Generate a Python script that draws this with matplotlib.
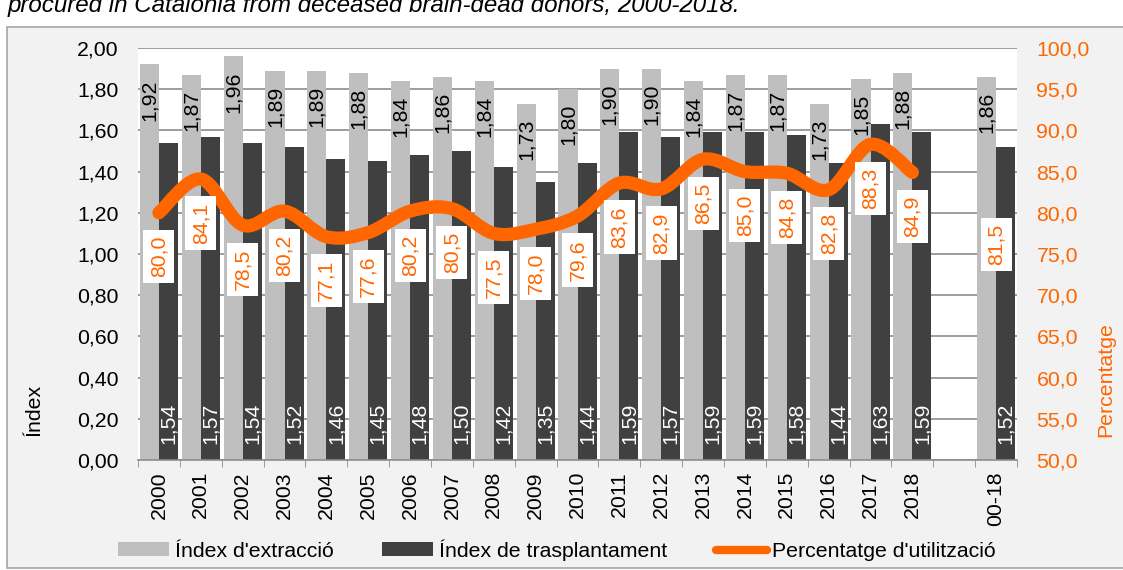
import numpy as np
import matplotlib
matplotlib.use("Agg")
import matplotlib.pyplot as plt
from matplotlib.path import Path
from matplotlib.patches import PathPatch, Patch, Rectangle
from matplotlib.lines import Line2D

plt.rcParams['font.family'] = ['Liberation Sans', 'DejaVu Sans']

# -------------------------------------------------
# DATA
# -------------------------------------------------
categories = ["2000", "2001", "2002", "2003", "2004", "2005", "2006", "2007", "2008",
              "2009", "2010", "2011", "2012", "2013", "2014", "2015", "2016", "2017",
              "2018", "", "00-18"]
extraction = [1.92, 1.87, 1.96, 1.89, 1.89, 1.88, 1.84, 1.86, 1.84, 1.73, 1.80,
              1.90, 1.90, 1.84, 1.87, 1.87, 1.73, 1.85, 1.88, None, 1.86]
transplant = [1.54, 1.57, 1.54, 1.52, 1.46, 1.45, 1.48, 1.50, 1.42, 1.35, 1.44,
              1.59, 1.57, 1.59, 1.59, 1.58, 1.44, 1.63, 1.59, None, 1.52]
utilisation = [80.0, 84.1, 78.5, 80.2, 77.1, 77.6, 80.2, 80.5, 77.5, 78.0, 79.6,
               83.6, 82.9, 86.5, 85.0, 84.8, 82.8, 88.3, 84.9, None, 81.5]

title = "procured in Catalonia from deceased brain-dead donors, 2000-2018."

ORANGE = "#FF6600"
LIGHT = "#BFBFBF"
DARK = "#404040"
W, H = 1123, 570
FS = 15.3

def fmt(v, d):
    return f"{v:.{d}f}".replace(".", ",")

fig = plt.figure(figsize=(W / 100, H / 100), dpi=100)
fig.patch.set_facecolor("white")

# chart box
fig.patches.append(Rectangle((7 / W, 2 / H), 1.2, (568 - 27) / H, transform=fig.transFigure,
                             facecolor="#F2F2F2", edgecolor="#A6A6A6", lw=1.2, zorder=-5))

# title line is cut at the top edge, like in the original
fig.text(8 / W, 1 - 12 / H, title, style="italic", fontsize=17.4, va="baseline", ha="left")

ax = fig.add_axes([138 / W, (H - 460) / H, (1017 - 138) / W, (460 - 48) / H])
ax.set_facecolor("white")

x = np.arange(len(categories))
bw = 0.455

for i in x:
    if extraction[i] is not None:
        ax.bar(i - bw / 2, extraction[i], bw, color=LIGHT, zorder=2)
        ax.annotate(fmt(extraction[i], 2), (i - bw / 2, extraction[i]), xytext=(0, -15),
                    textcoords="offset pixels", rotation=90, ha="center", va="top",
                    fontsize=FS, color="black", zorder=5)
    if transplant[i] is not None:
        ax.bar(i + bw / 2, transplant[i], bw, color=DARK, zorder=2)
        ax.text(i + bw / 2, 0.08, fmt(transplant[i], 2), rotation=90, ha="center",
                va="bottom", fontsize=FS, color="white", zorder=5)

ax.set_xlim(-0.5, len(categories) - 0.5)
ax.set_ylim(0, 2.0)
ax.set_yticks(np.arange(0, 2.01, 0.2))
ax.set_yticklabels([fmt(v, 2) for v in np.arange(0, 2.01, 0.2)], fontsize=FS)
ax.yaxis.grid(True, color="#8C8C8C", lw=1.2, zorder=0)
ax.set_axisbelow(True)
ax.tick_params(axis="y", length=0, pad=14)
ax.set_xticks(x)
ax.set_xticklabels(categories, rotation=90, fontsize=FS)
ax.set_xticks(np.arange(-0.5, len(categories)), minor=True)
ax.tick_params(axis="x", which="major", length=0, pad=8)
ax.tick_params(axis="x", which="minor", length=5, color="#8C8C8C")
for s in ["left", "right", "top"]:
    ax.spines[s].set_visible(False)
ax.spines["bottom"].set_color("#8C8C8C")
ax.spines["bottom"].set_linewidth(1.2)

# secondary axis
ax2 = ax.twinx()
ax2.set_ylim(50, 100)
ax2.set_yticks(np.arange(50, 100.1, 5))
ax2.set_yticklabels([fmt(v, 1) for v in np.arange(50, 100.1, 5)], fontsize=FS, color=ORANGE)
ax2.tick_params(axis="y", length=0, pad=14)
for s in ax2.spines.values():
    s.set_visible(False)

fig.text(34 / W, 1 - 410 / H, "Índex", rotation=90, ha="center", va="center", fontsize=FS)
fig.text(1106 / W, 1 - 380 / H, "Percentatge", rotation=90, ha="center", va="center",
         fontsize=FS, color=ORANGE)

# smoothed line (Catmull-Rom as bezier), years only
px = [i for i in range(19)]
py = [utilisation[i] for i in range(19)]
verts = [(px[0], py[0])]
codes = [Path.MOVETO]
n = len(px)
for i in range(n - 1):
    p0 = np.array([px[max(i - 1, 0)], py[max(i - 1, 0)]])
    p1 = np.array([px[i], py[i]])
    p2 = np.array([px[i + 1], py[i + 1]])
    p3 = np.array([px[min(i + 2, n - 1)], py[min(i + 2, n - 1)]])
    c1 = p1 + (p2 - p0) / 6
    c2 = p2 - (p3 - p1) / 6
    verts += [tuple(c1), tuple(c2), tuple(p2)]
    codes += [Path.CURVE4] * 3
ax2.add_patch(PathPatch(Path(verts, codes), fill=False, edgecolor=ORANGE, lw=9.5,
                        capstyle="round", joinstyle="round", zorder=3))

for i in x:
    if utilisation[i] is not None:
        ax2.annotate(fmt(utilisation[i], 1), (i, utilisation[i]), xytext=(0, -44),
                     textcoords="offset pixels", rotation=90, ha="center", va="center",
                     fontsize=FS, color=ORANGE, zorder=6,
                     bbox=dict(boxstyle="square,pad=0.28", fc="white", ec="none"))

handles = [Patch(facecolor=LIGHT, label="Índex d'extracció"),
           Patch(facecolor=DARK, label="Índex de trasplantament"),
           Line2D([], [], color=ORANGE, lw=6, solid_capstyle="round",
                  label="Percentatge d'utilització")]
fig.legend(handles=handles, loc="center", bbox_to_anchor=(557 / W, (H - 550) / H), ncol=3,
           frameon=False, fontsize=FS, handlelength=2.4, handleheight=0.62,
           handletextpad=0.25, columnspacing=2.3)

fig.savefig("out.png", dpi=100)
